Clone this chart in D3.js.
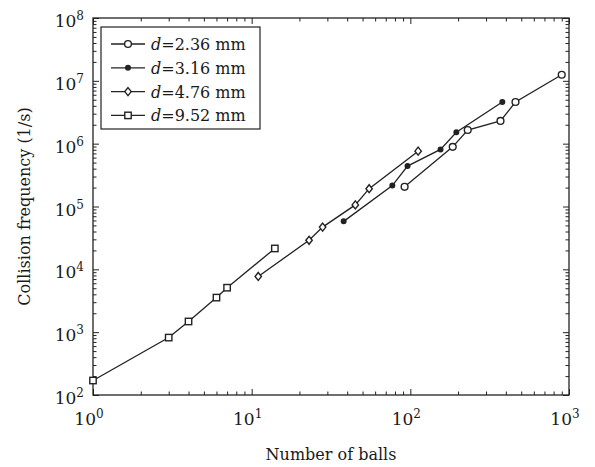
<!DOCTYPE html>
<html>
<head>
<meta charset="utf-8">
<script src="https://cdn.jsdelivr.net/npm/d3@7"></script>
<style>
  body { margin: 0; background: #fff; }
  text { font-family: "DejaVu Serif", serif; fill: #1a1a1a; }
</style>
</head>
<body>
<div id="chart"></div>
<script>
// Данные
const seriesNames = ['2.36', '3.16', '4.76', '9.52'];

const ballsD236 = [92, 185, 230, 370, 460, 900];
const freqD236  = [2.06e5, 8.9e5, 1.65e6, 2.3e6, 4.6e6, 1.25e7];

const ballsD316 = [38, 77, 96, 155, 195, 380];
const freqD316  = [5.8e4, 2.15e5, 4.4e5, 8.1e5, 1.52e6, 4.6e6];

const ballsD476 = [11, 23, 28, 45, 55, 112];
const freqD476  = [7.7e3, 2.9e4, 4.7e4, 1.06e5, 1.92e5, 7.6e5];

const ballsD952 = [1, 3, 4, 6, 7, 14];
const freqD952  = [170, 820, 1480, 3550, 5100, 21500];

const xTickLabels = ['0', '1', '2', '3'];
const yTickLabels = ['2', '3', '4', '5', '6', '7', '8'];

const width = 595, height = 467;
const margin = { left: 93, right: 26, top: 18, bottom: 72 };

const svg = d3.select('#chart').append('svg')
  .attr('width', width)
  .attr('height', height);

// Шкалы
const x = d3.scaleLog().domain([1, 1000]).range([margin.left, width - margin.right]);
const y = d3.scaleLog().domain([100, 1e8]).range([height - margin.bottom, margin.top]);

const x0 = margin.left, x1 = width - margin.right;
const y0 = height - margin.bottom, y1 = margin.top;

// Мелкие и крупные деления
const xMajor = xTickLabels.map(p => Math.pow(10, +p));
const yMajor = yTickLabels.map(p => Math.pow(10, +p));
const xMinor = x.ticks().filter(v => !xMajor.some(m => Math.abs(m - v) < 1e-9));
const yMinor = y.ticks().filter(v => !yMajor.some(m => Math.abs(m / v - 1) < 1e-9));

function addAxis(axis, tr) {
  const g = svg.append('g').attr('transform', tr).call(axis);
  g.select('.domain').remove();
  g.selectAll('line').attr('stroke', '#222').attr('stroke-width', 1);
  return g;
}

// Деления внутрь со всех четырёх сторон
[[d3.axisBottom, `translate(0,${y0})`, x], [d3.axisTop, `translate(0,${y1})`, x]].forEach(([f, tr, s]) => {
  addAxis(f(s).tickValues(xMajor).tickSize(-6).tickFormat(''), tr);
  addAxis(f(s).tickValues(xMinor).tickSize(-3.5).tickFormat(''), tr);
});
[[d3.axisLeft, `translate(${x0},0)`, y], [d3.axisRight, `translate(${x1},0)`, y]].forEach(([f, tr, s]) => {
  addAxis(f(s).tickValues(yMajor).tickSize(-6).tickFormat(''), tr);
  addAxis(f(s).tickValues(yMinor).tickSize(-3.5).tickFormat(''), tr);
});

// Рамка
svg.append('rect')
  .attr('x', x0).attr('y', y1)
  .attr('width', x1 - x0).attr('height', y0 - y1)
  .attr('fill', 'none').attr('stroke', '#222').attr('stroke-width', 1.3);

// Подписи делений 10^n
xTickLabels.forEach(p => {
  const t = svg.append('text')
    .attr('x', x(Math.pow(10, +p)) - 4)
    .attr('y', y0 + 30)
    .attr('text-anchor', 'middle')
    .style('font-size', '17px');
  t.append('tspan').text('10');
  t.append('tspan').attr('dy', -7).style('font-size', '12px').text(p);
});

yTickLabels.forEach(p => {
  const t = svg.append('text')
    .attr('x', x0 - 9)
    .attr('y', y(Math.pow(10, +p)) + 9)
    .attr('text-anchor', 'end')
    .style('font-size', '17px');
  t.append('tspan').text('10');
  t.append('tspan').attr('dy', -7).style('font-size', '12px').text(p);
});

// Заголовки осей
svg.append('text')
  .attr('x', (x0 + x1) / 2)
  .attr('y', 460)
  .attr('text-anchor', 'middle')
  .style('font-size', '16px')
  .text('Number of balls');

svg.append('text')
  .attr('transform', `translate(30,${(y0 + y1) / 2}) rotate(-90)`)
  .attr('text-anchor', 'middle')
  .style('font-size', '16px')
  .text('Collision frequency (1/s)');

// Маркеры
const markers = {
  circle: (g) => g.append('circle').attr('r', 3.4).attr('fill', '#fff'),
  dot: (g) => g.append('circle').attr('r', 2.3).attr('fill', '#222'),
  diamond: (g) => g.append('path').attr('d', 'M0,-4L3.2,0L0,4L-3.2,0Z').attr('fill', '#fff'),
  square: (g) => g.append('rect').attr('x', -3.2).attr('y', -3.2).attr('width', 6.4).attr('height', 6.4).attr('fill', '#fff')
};

const series = [
  { xs: ballsD236, ys: freqD236, m: 'circle' },
  { xs: ballsD316, ys: freqD316, m: 'dot' },
  { xs: ballsD476, ys: freqD476, m: 'diamond' },
  { xs: ballsD952, ys: freqD952, m: 'square' }
];

const line = d3.line().x(d => x(d[0])).y(d => y(d[1]));

series.forEach(s => {
  const pts = s.xs.map((v, i) => [v, s.ys[i]]);
  svg.append('path')
    .datum(pts)
    .attr('fill', 'none')
    .attr('stroke', '#222')
    .attr('stroke-width', 1.3)
    .attr('d', line);
  pts.forEach(p => {
    const g = svg.append('g').attr('transform', `translate(${x(p[0])},${y(p[1])})`);
    markers[s.m](g).attr('stroke', '#222').attr('stroke-width', 1.4);
  });
});

// Легенда
const legend = svg.append('g');
legend.append('rect')
  .attr('x', 101).attr('y', 27)
  .attr('width', 159).attr('height', 102)
  .attr('fill', '#fff').attr('stroke', '#222').attr('stroke-width', 1.2);

series.forEach((s, i) => {
  const ly = 44 + i * 23.8;
  legend.append('line')
    .attr('x1', 111).attr('x2', 145)
    .attr('y1', ly).attr('y2', ly)
    .attr('stroke', '#222').attr('stroke-width', 1.3);
  const g = legend.append('g').attr('transform', `translate(128,${ly})`);
  markers[s.m](g).attr('stroke', '#222').attr('stroke-width', 1.4);
  const t = legend.append('text')
    .attr('x', 151).attr('y', ly + 6)
    .style('font-size', '16px');
  t.append('tspan').style('font-style', 'italic').text('d');
  t.append('tspan').text('=' + seriesNames[i] + ' mm');
});
</script>
</body>
</html>
